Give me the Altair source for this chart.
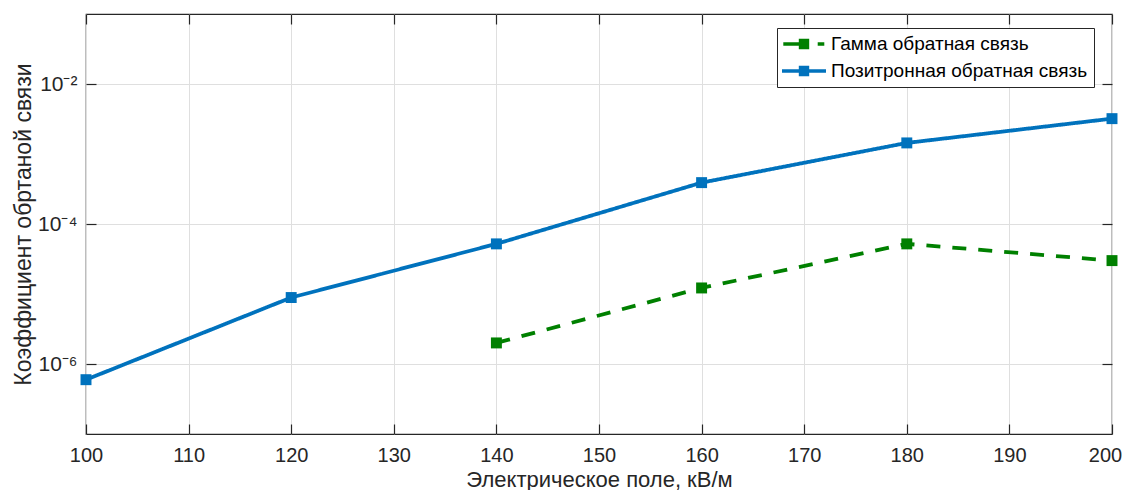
import altair as alt
import pandas as pd

# ---- data ----
series_names = ["Гамма обратная связь", "Позитронная обратная связь"]
series_colors = ["#008000", "#0072BD"]

positron_field = [100, 120, 140, 160, 180, 200]
positron_coef = [5.97e-7, 8.9e-6, 5.2e-5, 3.9e-4, 1.44e-3, 3.2e-3]

gamma_field = [140, 160, 180, 200]
gamma_coef = [2.0e-6, 1.22e-5, 5.2e-5, 3.0e-5]

x_ticks = [100, 110, 120, 130, 140, 150, 160, 170, 180, 190, 200]
y_ticks = [1e-6, 1e-4, 1e-2]
x_domain = [100, 200]
y_domain = [1e-7, 1e-1]

x_title = "Электрическое поле, кВ/м"
y_title = "Коэффициент обртаной связи"

rows = []
for f, c in zip(gamma_field, gamma_coef):
    rows.append({"E": f, "K": c, "series": series_names[0]})
for f, c in zip(positron_field, positron_coef):
    rows.append({"E": f, "K": c, "series": series_names[1]})
df = pd.DataFrame(rows)

FONT = "Liberation Sans"
DARK = "#262626"
W, H = 1026, 420
TICK = 10

xs = alt.Scale(domain=x_domain, nice=False, zero=False)
ys = alt.Scale(type="log", domain=y_domain, nice=False)
cs = alt.Scale(domain=series_names, range=series_colors)

y_label_expr = (
    "round(log(datum.value)/LN10) == -6 ? '10⁻⁶' : "
    "round(log(datum.value)/LN10) == -4 ? '10⁻⁴' : "
    "round(log(datum.value)/LN10) == -2 ? '10⁻²' : ''"
)

# labelled axes (no ticks)
bottom_axis = alt.Axis(
    orient="bottom", values=x_ticks, format="d", grid=True, domain=False,
    ticks=False, labelPadding=11, labelFlush=False, labelFontSize=20,
    labelOffset={"condition": {"test": "datum.value == 200", "value": -7}, "value": 0},
    title=x_title, titleFontSize=22, titleBaseline="alphabetic", titleY=52,
)
left_axis = alt.Axis(
    orient="left", values=y_ticks, labelExpr=y_label_expr, grid=True, domain=False,
    ticks=False, labelPadding=9, title=y_title,
    titleBaseline="alphabetic", titleX=-56,
)
# inward ticks on the bottom and left edges
in_bottom = alt.Axis(
    orient="top", offset=-H, values=x_ticks, labels=False, grid=False, domain=False,
    ticks=True, tickSize=TICK, title=None,
)
in_left = alt.Axis(
    orient="right", offset=-W, values=y_ticks, labels=False, grid=False, domain=False,
    ticks=True, tickSize=TICK, title=None,
)
# inward ticks on the top and right edges
in_top = alt.Axis(
    orient="bottom", offset=-H, values=x_ticks, labels=False, grid=False, domain=False,
    ticks=True, tickSize=TICK, title=None,
)
in_right = alt.Axis(
    orient="left", offset=-W, values=y_ticks, labels=False, grid=False, domain=False,
    ticks=True, tickSize=TICK, title=None,
)

path_gamma = ("M-2.07,-0.17L-0.4,-0.17L-0.4,0.17L-2.07,0.17Z "
              "M-0.52,-0.52L0.52,-0.52L0.52,0.52L-0.52,0.52Z "
              "M1.37,-0.17L2.03,-0.17L2.03,0.17L1.37,0.17Z")
path_pos = ("M-2.2,-0.17L2.2,-0.17L2.2,0.17L-2.2,0.17Z "
            "M-0.52,-0.52L0.52,-0.52L0.52,0.52L-0.52,0.52Z")

legend = alt.Legend(
    title=None, orient="none", legendX=691, legendY=14, direction="vertical",
    labelFont=FONT, labelFontSize=19, labelColor="#000000", labelLimit=0,
    symbolSize=400, symbolStrokeWidth=0, symbolOffset=11, labelOffset=17,
    symbolOpacity=1, rowPadding=7, padding=6, strokeColor=DARK, fillColor="white",
)

base = alt.Chart(df)

# legend-carrying layer first so its legend settings win the merge
legend_layer = base.mark_point(filled=True, opacity=0, clip=False).encode(
    x=alt.X("E:Q", scale=xs, axis=in_top),
    y=alt.Y("K:Q", scale=ys, axis=in_right),
    color=alt.Color("series:N", scale=cs, legend=legend),
    shape=alt.Shape("series:N", scale=alt.Scale(domain=series_names, range=[path_gamma, path_pos]),
                    legend=legend),
)

lines = base.mark_line(strokeWidth=3.8, clip=False).encode(
    x=alt.X("E:Q", scale=xs, axis=bottom_axis),
    y=alt.Y("K:Q", scale=ys, axis=left_axis),
    color=alt.Color("series:N", scale=cs, legend=None),
    strokeDash=alt.StrokeDash(
        "series:N",
        scale=alt.Scale(domain=series_names, range=[[14, 12], [1, 0]]),
        legend=None,
    ),
)

points = base.mark_point(filled=True, shape="square", size=120, opacity=1, clip=False).encode(
    x=alt.X("E:Q", scale=xs, axis=in_bottom),
    y=alt.Y("K:Q", scale=ys, axis=in_left),
    color=alt.Color("series:N", scale=cs, legend=None),
)

chart = (
    alt.layer(legend_layer, lines, points)
    .resolve_scale(x="shared", y="shared")
    .resolve_axis(x="independent", y="independent")
    .properties(
        width=W, height=H,
        autosize=alt.AutoSizeParams(type="none"),
        padding={"left": 78, "top": 6, "right": 12, "bottom": 56},
    )
    .configure(font=FONT)
    .configure_view(stroke=DARK, strokeWidth=1.2)
    .configure_axis(
        labelFont=FONT, labelFontSize=21, labelColor=DARK,
        titleFont=FONT, titleFontSize=23, titleFontWeight="normal", titleColor=DARK,
        gridColor="#dfdfdf", gridWidth=1, tickColor=DARK, tickWidth=1.2,
    )
)

chart.save("out.html", embed_options={"renderer": "svg", "actions": False})
